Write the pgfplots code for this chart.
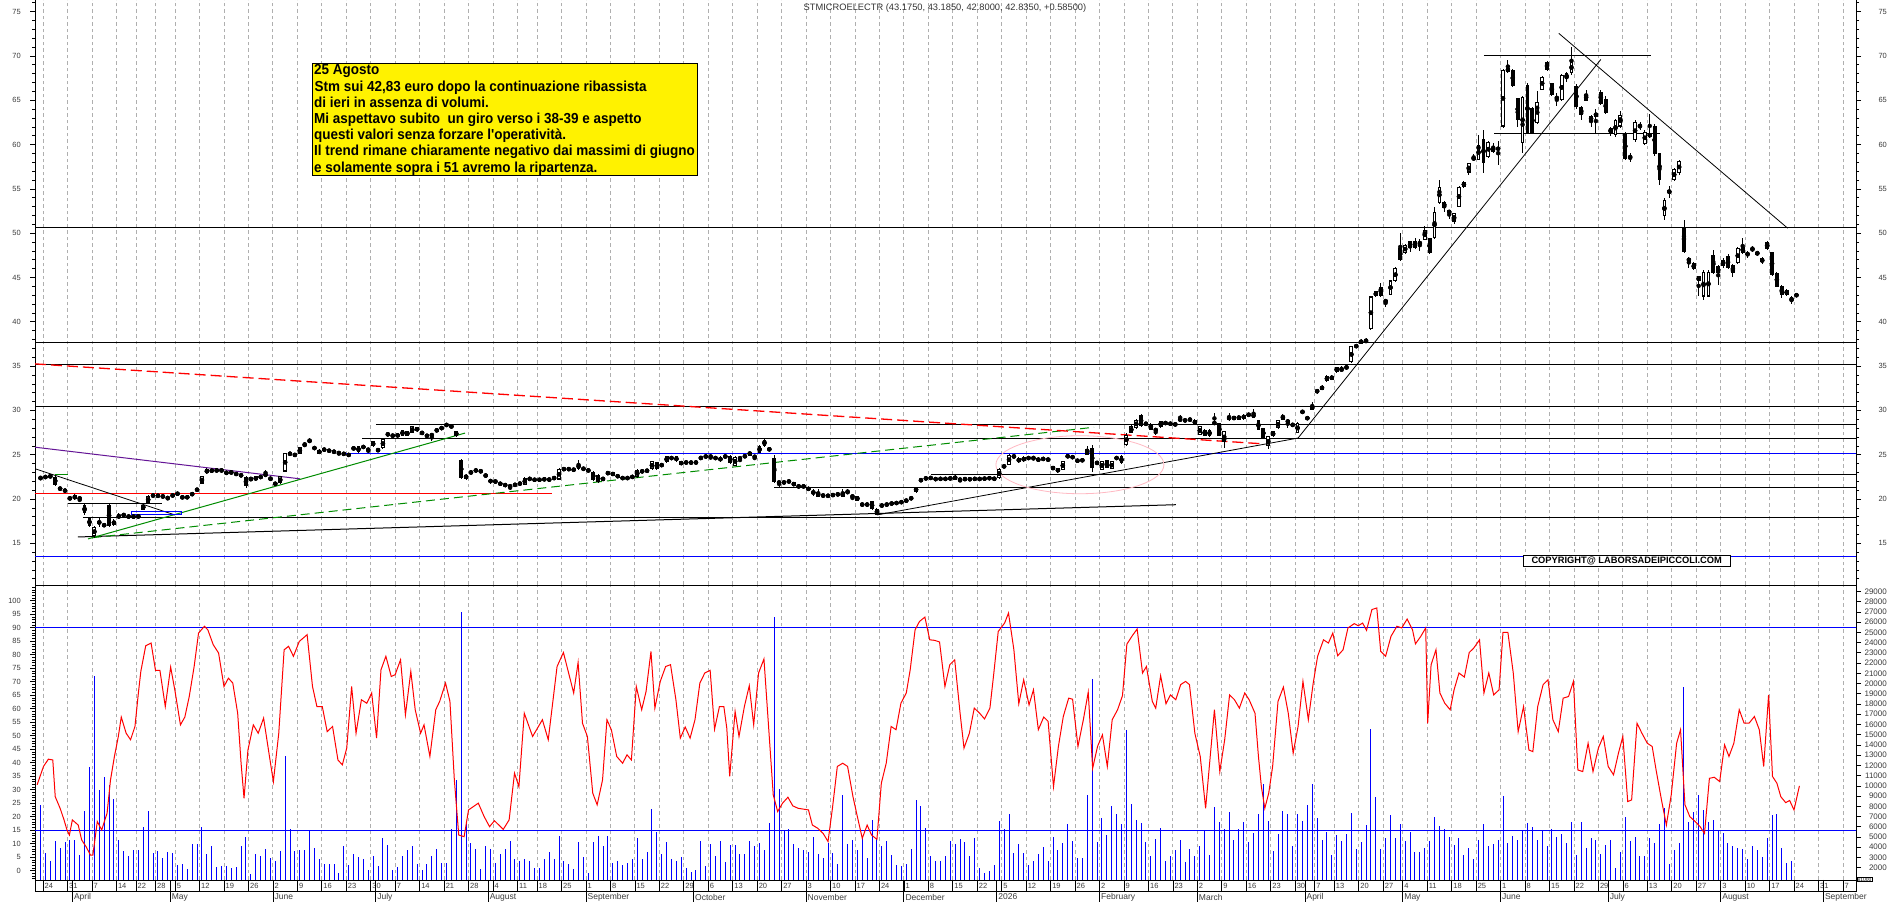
\documentclass[border=0pt]{standalone}
\usepackage{fontspec}
\setmainfont{Liberation Sans}
\newfontfamily\boxfont[FakeStretch=0.93]{Liberation Sans}
\usepackage{pgfplots}
\usepackage{pgfplotstable}
\pgfplotsset{compat=1.18}
\definecolor{grn}{RGB}{0,140,0}
\definecolor{purp}{RGB}{100,20,150}
\definecolor{pnk}{RGB}{255,185,195}
\definecolor{gridc}{RGB}{175,175,175}
\definecolor{lbl}{RGB}{60,60,60}

\pgfplotstableread{
i o h l c
-1 22.3 22.6 22.2 22.4
0 22.45 22.7 22.3 22.5
1 22.45 22.8 22.4 22.65
2 22.5 22.6 21.5 21.6
3 21.2 21.35 21.0 21.15
4 21.05 21.1 20.8 20.85
5 20.1 20.3 19.85 20.05
6 20.45 20.6 19.9 19.95
7 20.1 20.1 19.7 20.05
8 19.35 19.4 18.2 18.4
9 17.85 17.9 16.9 16.95
10 15.8 17.0 15.6 16.85
11 17.3 17.85 16.9 17.4
12 17.1 17.3 16.8 17.0
13 19.35 19.4 16.9 16.95
14 17.1 17.7 17.0 17.55
15 18.15 18.4 17.8 17.9
16 18.1 18.4 18.0 18.3
17 18.0 18.1 17.95 18.05
18 18.15 18.2 17.8 17.9
19 18.1 18.2 17.9 17.95
20 18.8 19.4 18.75 19.35
21 19.55 20.4 19.5 20.3
22 20.5 20.55 20.2 20.3
23 20.35 20.5 20.2 20.4
24 20.3 20.45 20.1 20.3
25 20.2 20.25 19.9 20.05
26 20.3 20.6 20.2 20.5
27 20.6 20.8 20.4 20.6
28 20.3 20.35 20.0 20.1
29 20.25 20.3 20.1 20.15
30 20.4 20.75 20.35 20.7
31 20.85 21.3 20.8 21.25
32 21.75 22.6 21.7 22.55
33 22.9 23.45 22.85 23.35
34 23.3 23.4 23.0 23.1
35 23.2 23.35 23.1 23.25
36 23.25 23.35 23.1 23.2
37 23.0 23.1 22.85 22.9
38 23.0 23.1 22.9 23.0
39 22.7 23.0 22.65 22.95
40 22.75 22.8 22.55 22.6
41 22.5 22.55 21.3 21.45
42 22.25 22.35 22.1 22.3
43 22.1 22.6 22.05 22.55
44 22.6 22.7 22.3 22.35
45 22.7 23.3 22.6 22.75
46 22.4 22.45 22.1 22.2
47 21.75 21.9 21.55 21.7
48 21.8 22.6 21.7 22.55
49 23.1 25.25 23.05 25.2
50 24.95 25.35 24.9 25.25
51 24.85 25.15 24.8 25.1
52 25.1 25.9 25.05 25.85
53 25.95 26.45 25.9 26.25
54 26.4 26.85 26.35 26.7
55 25.85 25.9 25.6 25.65
56 25.1 25.6 25.05 25.55
57 25.55 25.7 25.45 25.6
58 25.45 25.55 25.35 25.45
59 25.35 25.45 25.25 25.3
60 25.2 25.25 25.0 25.2
61 25.2 25.25 24.95 25.0
62 24.9 25.1 24.85 25.05
63 25.7 25.8 25.6 25.75
64 25.95 26.0 25.2 25.3
65 25.85 26.0 25.75 25.9
66 25.55 25.7 25.2 25.6
67 26.5 26.55 25.9 25.95
68 25.65 25.7 25.3 25.4
69 25.75 26.8 25.7 26.75
70 27.15 27.5 27.1 27.45
71 27.15 27.3 27.0 27.15
72 27.0 27.45 26.95 27.35
73 27.15 27.8 27.1 27.75
74 27.65 27.7 27.1 27.15
75 27.45 28.25 27.4 28.2
76 28.1 28.15 27.6 27.65
77 27.45 27.6 27.35 27.45
78 27.15 27.25 27.05 27.1
79 27.2 27.3 26.6 27.25
80 27.6 27.95 27.55 27.9
81 27.9 28.15 27.85 28.1
82 28.2 28.6 28.15 28.5
83 28.0 28.45 27.9 28.4
84 27.65 27.7 27.0 27.1
85 24.35 24.5 22.3 22.4
86 22.75 22.8 22.2 22.3
87 23.0 23.1 22.9 23.0
88 23.2 23.35 23.1 23.25
89 23.15 23.3 23.0 23.1
90 22.75 22.8 22.5 22.55
91 22.25 22.3 21.75 21.8
92 22.0 22.1 21.85 21.95
93 21.75 21.85 21.6 21.7
94 21.6 21.7 21.45 21.55
95 21.5 21.55 21.0 21.4
96 21.45 21.8 21.4 21.75
97 21.8 21.85 21.6 21.7
98 21.62 22.45 21.55 22.37
99 22.25 22.4 22.15 22.3
100 22.2 22.3 22.05 22.15
101 22.25 22.3 22.05 22.1
102 22.2 22.35 22.1 22.25
103 22.2 22.3 22.05 22.2
104 22.45 22.5 22.2 22.3
105 22.2 23.45 22.15 23.38
106 23.35 23.5 23.25 23.4
107 23.4 23.5 23.25 23.35
108 23.3 23.45 23.2 23.3
109 23.38 24.4 23.3 23.98
110 23.55 23.6 23.2 23.3
111 23.25 23.3 23.15 23.2
112 23.08 23.15 22.05 22.11
113 22.74 22.8 21.8 21.88
114 22.25 22.4 22.1 22.3
115 22.95 23.05 22.8 22.9
116 23.0 23.05 22.6 22.65
117 22.75 22.8 22.35 22.4
118 22.35 22.5 22.2 22.4
119 22.45 22.5 22.2 22.3
120 22.37 22.7 22.3 22.63
121 22.48 23.4 22.4 23.31
122 23.1 23.25 23.0 23.15
123 23.2 23.3 23.05 23.2
124 23.38 24.3 23.3 24.25
125 24.14 24.2 23.3 23.38
126 23.68 24.05 23.6 23.98
127 24.14 24.9 24.1 24.81
128 24.6 24.75 24.5 24.65
129 24.81 24.85 24.2 24.25
130 24.25 24.3 23.8 23.87
131 24.15 24.25 24.0 24.1
132 23.98 24.3 23.9 24.25
133 24.15 24.2 24.05 24.1
134 24.6 24.8 24.5 24.65
135 24.8 24.95 24.65 24.8
136 24.8 24.85 24.5 24.8
137 24.6 24.75 24.5 24.65
138 24.25 24.8 24.2 24.74
139 24.8 24.9 24.7 24.8
140 24.89 24.95 24.0 24.06
141 23.76 24.8 23.7 24.74
142 24.62 24.65 24.15 24.6
143 24.8 24.95 24.7 24.85
144 24.89 25.45 24.85 25.34
145 24.75 24.85 24.4 24.8
146 25.19 26.05 25.15 26.01
147 25.94 26.9 25.9 26.69
148 25.75 25.8 25.4 25.49
149 24.62 25.0 21.8 21.88
150 21.9 22.0 21.4 21.85
151 21.85 22.0 21.75 21.9
152 21.95 22.15 21.85 22.0
153 21.88 21.9 21.45 21.5
154 21.45 21.5 21.35 21.4
155 21.45 21.5 21.35 21.4
156 21.3 21.4 20.9 21.0
157 20.7 21.13 20.3 20.8
158 20.23 21.1 20.2 20.75
159 20.4 20.6 20.25 20.35
160 20.49 20.55 20.2 20.23
161 20.45 20.55 20.35 20.45
162 20.38 20.75 20.3 20.68
163 20.23 21.1 20.2 20.75
164 20.75 21.1 20.6 20.8
165 20.3 20.35 19.9 20.3
166 20.3 20.35 19.75 19.81
167 19.4 19.5 19.25 19.35
168 19.35 19.5 19.25 19.4
169 19.74 19.8 18.8 18.87
170 18.23 18.95 18.15 18.87
171 19.25 19.4 19.1 19.3
172 19.35 19.5 19.25 19.4
173 19.36 19.7 19.3 19.62
174 19.55 19.65 19.45 19.55
175 19.55 19.8 19.5 19.74
176 19.7 20.0 19.65 19.93
177 19.93 20.3 19.9 20.23
178 20.75 21.4 20.7 21.35
179 22.1 22.25 22.0 22.15
180 22.18 22.55 22.1 22.48
181 22.35 22.5 22.25 22.4
182 22.25 22.35 22.15 22.25
183 22.3 22.35 22.2 22.25
184 22.25 22.4 22.15 22.3
185 22.18 22.55 22.1 22.48
186 22.18 22.7 22.1 22.63
187 22.2 22.25 21.95 22.2
188 22.25 22.35 22.15 22.25
189 22.37 22.4 22.05 22.11
190 22.25 22.4 22.15 22.3
191 22.25 22.35 22.15 22.3
192 22.3 22.4 22.2 22.3
193 22.35 22.45 22.25 22.35
194 22.48 22.5 22.05 22.11
195 22.37 23.45 22.3 23.38
196 23.65 23.9 23.5 23.7
197 23.87 25.05 23.8 25.0
198 24.88 24.95 24.65 24.74
199 24.63 24.7 24.05 24.14
200 24.25 24.8 24.2 24.74
201 24.6 24.75 24.5 24.65
202 24.44 24.9 24.4 24.74
203 24.63 24.7 24.2 24.25
204 24.5 24.65 24.4 24.55
205 24.45 24.5 24.4 24.44
206 23.68 23.75 23.25 23.31
207 23.0 23.55 22.95 23.5
208 23.31 24.3 23.25 24.25
209 24.8 24.95 24.7 24.85
210 24.75 24.85 24.6 24.7
211 24.5 24.55 24.1 24.14
212 24.25 24.55 24.2 24.5
213 25.64 25.95 24.95 25.0
214 25.75 26.1 23.1 23.5
215 24.05 24.2 23.95 24.1
216 23.31 24.3 23.25 24.25
217 24.37 24.4 23.45 23.5
218 23.4 24.3 23.35 24.25
219 24.6 24.75 24.5 24.65
220 24.06 25.0 23.9 24.81
221 26.13 27.45 25.95 27.26
222 27.45 28.3 27.4 28.2
223 28.0 29.0 27.95 28.95
224 29.5 29.6 28.1 28.2
225 28.5 28.6 28.35 28.5
226 28.5 28.55 27.75 27.82
227 27.8 27.85 27.25 27.8
228 28.12 28.85 28.05 28.76
229 28.55 28.7 28.45 28.6
230 28.5 28.6 28.4 28.5
231 28.27 28.65 28.2 28.57
232 28.95 29.5 28.85 28.95
233 28.85 29.0 28.75 28.9
234 28.95 29.1 28.85 28.95
235 28.95 29.0 28.3 28.38
236 27.26 28.25 27.2 28.2
237 27.82 27.85 27.1 27.15
238 27.07 27.85 27.0 27.82
239 28.55 29.7 28.5 28.6
240 28.57 28.6 27.1 27.15
241 26.39 27.7 25.75 27.63
242 28.87 29.7 28.8 29.4
243 28.95 29.4 28.9 29.32
244 28.95 29.5 28.9 29.4
245 29.02 29.6 28.95 29.5
246 29.5 29.65 29.4 29.5
247 29.7 30.15 29.1 29.14
248 28.87 28.9 27.75 27.82
249 28.0 28.05 26.8 26.88
250 25.94 27.1 25.65 27.07
251 27.07 27.7 27.0 27.63
252 28.0 28.9 27.95 28.87
253 28.95 29.65 28.9 29.4
254 28.95 29.0 28.0 28.57
255 28.4 28.5 28.2 28.35
256 27.45 28.65 27.4 28.57
257 29.7 30.05 29.65 29.95
258 29.15 29.3 28.95 29.1
259 30.08 31.0 30.0 30.53
260 32.03 32.4 31.9 32.33
261 32.3 32.85 32.25 32.78
262 33.27 33.95 33.2 33.9
263 33.46 34.0 33.4 33.9
264 34.29 34.95 34.25 34.9
265 34.6 35.0 34.4 34.6
266 34.66 35.1 34.6 35.04
267 35.42 37.3 35.35 37.22
268 37.1 37.5 37.0 37.41
269 37.97 38.05 37.45 37.52
270 38.05 38.2 37.55 37.6
271 39.17 42.95 39.1 42.86
272 42.86 43.5 42.8 43.42
273 43.98 44.4 42.85 42.93
274 42.48 42.55 41.7 42.18
275 43.05 44.75 43.0 44.66
276 44.55 46.15 44.5 46.05
277 48.31 50.0 46.9 46.99
278 47.74 48.8 47.6 48.68
279 49.06 49.1 47.9 48.31
280 49.06 49.5 48.2 48.31
281 48.9 49.3 48.0 48.85
282 49.25 50.8 49.2 50.37
283 49.44 49.5 47.6 47.74
284 49.44 52.9 49.35 52.44
285 53.38 56.0 53.3 55.26
286 53.57 53.65 52.4 52.82
287 52.56 52.6 51.6 52.25
288 51.31 52.3 51.0 52.25
289 53.0 55.35 52.9 55.26
290 55.82 55.9 55.1 55.19
291 56.84 57.95 56.6 57.89
292 58.57 58.9 58.2 58.27
293 58.27 61.1 58.2 59.96
294 60.6 61.6 56.8 57.96
295 58.64 60.4 58.5 60.33
296 59.77 60.2 59.1 59.2
297 59.66 60.35 57.7 59.4
298 62.03 68.5 61.9 68.42
299 68.6 69.5 68.1 68.23
300 68.42 68.5 66.5 66.61
301 65.22 65.3 62.0 62.78
302 60.15 65.5 59.0 65.41
303 66.72 67.0 61.2 61.35
304 64.09 64.2 61.2 61.35
305 62.4 66.0 62.3 64.85
306 66.16 67.7 66.1 67.66
307 69.35 69.4 68.3 68.42
308 66.91 67.0 65.5 65.6
309 65.41 65.8 64.3 65.11
310 65.03 68.0 64.9 67.85
311 67.36 68.2 67.0 68.1
312 68.04 71.0 67.9 69.35
313 66.61 66.8 64.0 64.28
314 64.2 64.3 62.8 63.34
315 65.71 66.2 64.9 64.96
316 63.23 63.3 62.0 62.59
317 63.15 64.0 61.3 63.6
318 65.97 66.2 64.5 64.58
319 65.11 65.5 63.4 63.53
320 61.35 62.0 61.0 61.84
321 61.08 62.9 60.8 62.78
322 62.03 63.8 61.9 63.34
323 61.27 61.4 58.2 58.34
324 58.72 59.0 58.0 58.46
325 60.52 62.8 60.3 62.59
326 62.1 62.5 61.6 62.1
327 60.07 61.6 59.9 61.46
328 61.27 63.5 60.7 60.82
329 62.1 62.3 58.7 58.95
330 59.02 59.1 55.4 56.01
331 51.88 54.0 51.5 53.76
332 54.51 55.3 54.0 54.88
333 56.01 57.3 55.9 57.21
334 56.76 58.3 56.6 58.19
335 50.75 51.5 47.8 47.93
336 47.18 47.3 46.1 46.8
337 46.61 46.7 45.8 45.94
338 45.11 45.2 42.9 44.55
339 42.85 45.8 42.5 45.67
340 42.85 45.8 42.8 45.67
341 47.55 48.1 45.4 45.49
342 46.24 46.4 44.1 45.49
343 46.24 47.2 46.1 46.99
344 47.37 47.6 45.9 46.05
345 46.43 46.5 45.0 45.49
346 46.61 48.4 46.5 48.31
347 48.49 49.5 47.6 47.74
348 47.93 48.0 47.2 47.37
349 48.31 48.6 47.9 48.04
350 47.93 48.0 47.4 47.56
351 47.18 47.3 46.5 46.69
352 48.2 49.1 48.1 48.95
353 47.85 47.9 45.2 45.3
354 45.49 45.6 43.9 43.98
355 44.06 44.1 42.7 43.05
356 43.6 43.7 42.9 43.05
357 42.78 42.9 42.0 42.3
358 43.175 43.185 42.8 42.835
}\candles

\pgfplotstableread{
i v
-1 8100
0 3400
1 2700
2 4600
3 3900
4 4500
5 4700
6 4700
7 3200
8 7500
9 11800
10 20700
11 9600
12 10900
13 10100
14 8700
15 4700
16 3600
17 3100
18 3700
19 3700
20 6000
21 7500
22 3400
23 3600
24 2900
25 3500
26 3400
27 2300
28 2400
29 1900
30 4300
31 4300
32 6000
33 3300
34 4100
35 2100
36 2200
37 2200
38 2000
39 2100
40 4100
41 5000
42 1400
43 3300
44 3100
45 3800
46 2900
47 2700
48 3600
49 12900
50 5800
51 3600
52 3700
53 3700
54 5600
55 3900
56 2800
57 2400
58 2400
59 2400
60 1500
61 4100
62 2300
63 3300
64 3000
65 2800
66 1800
67 3100
68 2200
69 4900
70 4200
71 1800
72 2100
73 3100
74 3700
75 4100
76 2400
77 1800
78 2400
79 3100
80 3800
81 2500
82 2500
83 5800
84 10600
85 27000
86 6500
87 4400
88 3800
89 1900
90 4100
91 3800
92 2500
93 3300
94 3800
95 4600
96 2800
97 2700
98 2800
99 2700
100 2000
101 2000
102 2800
103 3500
104 2800
105 5100
106 2700
107 2400
108 1900
109 4500
110 3000
111 1500
112 4500
113 5100
114 4100
115 5100
116 2500
117 2700
118 2300
119 2500
120 2800
121 4900
122 2800
123 3500
124 7700
125 5500
126 3300
127 4500
128 2800
129 2700
130 3000
131 2000
132 1600
133 1800
134 4600
135 2200
136 4300
137 3100
138 4600
139 2600
140 4200
141 4200
142 3300
143 3300
144 4600
145 4100
146 4400
147 3700
148 6400
149 26500
150 9700
151 5700
152 5800
153 4300
154 3900
155 3700
156 3500
157 5000
158 3300
159 2900
160 4400
161 3400
162 2400
163 9100
164 4300
165 4700
166 3700
167 5000
168 2900
169 6700
170 4900
171 4100
172 4600
173 3200
174 2300
175 2200
176 2400
177 3800
178 8600
179 8000
180 5900
181 3100
182 2700
183 2700
184 3100
185 4600
186 4300
187 4800
188 4500
189 3100
190 4900
191 2000
192 1500
193 1700
194 2300
195 6600
196 5800
197 7200
198 3400
199 4300
200 3400
201 2300
202 2700
203 3300
204 4000
205 2700
206 5000
207 3700
208 4400
209 6300
210 4600
211 2900
212 2900
213 9100
214 20400
215 4500
216 6900
217 5200
218 8000
219 7200
220 6300
221 15500
222 8200
223 6700
224 6400
225 4500
226 3100
227 4800
228 5900
229 2700
230 3100
231 3700
232 4700
233 2600
234 3800
235 3100
236 4100
237 5700
238 3200
239 7900
240 6500
241 5800
242 7400
243 4700
244 5800
245 6500
246 4500
247 5400
248 7200
249 10200
250 6600
251 3600
252 5300
253 7500
254 7200
255 4100
256 7200
257 6600
258 8100
259 10200
260 6900
261 4700
262 5500
263 3200
264 5200
265 4600
266 5300
267 7300
268 3800
269 4500
270 6200
271 15600
272 8900
273 3800
274 4900
275 7100
276 4900
277 6300
278 4600
279 5500
280 3500
281 3500
282 3900
283 4600
284 7000
285 6100
286 5800
287 5000
288 4200
289 4900
290 3200
291 3900
292 2800
293 4700
294 6300
295 4100
296 4300
297 4700
298 9000
299 4400
300 5100
301 4700
302 5600
303 6400
304 6000
305 4700
306 5600
307 4100
308 5800
309 5000
310 5300
311 4400
312 6500
313 3200
314 6500
315 3900
316 4900
317 4700
318 3300
319 4200
320 4700
321 2000
322 3500
323 7000
324 4600
325 5000
326 3100
327 3100
328 4900
329 4400
330 6300
331 7800
332 2400
333 3700
334 4400
335 19700
336 6500
337 7400
338 9100
339 7600
340 6500
341 6700
342 5700
343 5400
344 4400
345 4100
346 3900
347 3800
348 2800
349 4100
350 3700
351 3000
352 4900
353 7100
354 7200
355 3900
356 2500
357 2700
}\vol

\pgfplotstableread{
x y
-1.7 31.8
-0.4 38.6
0.6 41.3
1.5 41.0
2.0 27.4
3.0 23.1
3.8 18.8
4.4 15.1
4.9 13.2
5.5 18.8
6.7 16.9
7.4 11.4
8.3 8.9
9.2 5.8
9.7 5.8
10.6 18.2
11.5 15.1
12.6 21.3
13.3 33.6
14.1 42.3
14.9 49.7
15.5 56.9
16.5 50.9
17.4 48.5
18.3 53.4
19.0 65.8
19.5 73.8
20.5 83.3
21.6 84.3
22.5 74.2
23.4 74.2
24.5 60.8
25.6 75.4
26.5 66.4
27.6 54.0
28.5 56.9
29.4 64.5
30.4 75.6
31.3 88.0
32.5 90.5
33.2 89.2
34.3 83.7
35.4 80.6
36.5 68.2
37.4 71.3
38.3 69.5
39.3 58.3
40.0 39.8
40.6 26.8
41.4 44.7
42.5 54.0
43.5 50.9
44.6 56.5
45.8 42.3
46.6 33.0
47.7 50.9
48.8 81.8
49.7 83.1
50.7 79.4
51.9 84.9
53.5 87.4
54.6 68.2
55.5 60.8
56.6 60.8
57.6 51.5
58.7 53.4
59.8 41.0
60.7 39.2
61.6 45.4
62.6 68.2
63.5 50.9
64.6 63.3
65.7 62.0
66.7 65.8
67.7 49.1
68.6 74.4
69.6 79.4
70.7 71.9
71.5 72.6
72.6 78.1
73.6 57.7
74.7 73.8
75.6 59.6
76.7 50.9
77.4 54.0
78.6 42.3
79.8 59.6
80.6 62.7
81.8 69.5
82.7 62.7
83.6 33.6
84.5 13.2
85.6 12.6
86.5 22.5
88.5 25.0
89.7 20.0
90.8 16.3
91.8 18.5
93.6 15.3
94.8 18.8
95.9 36.1
96.8 31.1
97.9 58.3
99.6 49.7
101.6 55.9
102.8 48.5
104.6 75.6
105.9 80.8
108.0 65.8
108.9 77.1
109.8 54.6
110.8 49.7
111.9 28.7
112.8 24.4
113.9 33.6
114.8 55.9
115.7 52.2
116.8 42.3
118.0 39.8
118.9 42.9
119.8 41.0
120.8 68.2
121.9 59.6
122.8 66.4
123.8 81.2
124.6 60.2
125.7 70.1
126.8 75.6
127.8 76.3
128.9 63.3
129.8 49.1
130.8 53.2
131.8 49.1
132.8 55.9
133.8 69.5
134.8 73.2
135.9 74.2
136.8 52.4
137.8 60.8
138.7 60.8
139.3 52.8
139.9 34.9
141.0 59.0
141.8 49.7
142.9 60.8
143.9 68.5
144.8 54.0
145.8 73.2
146.9 78.4
148.8 28.1
149.7 21.9
150.7 25.0
151.8 27.2
152.8 24.0
153.9 23.1
156.0 22.5
156.8 16.9
157.9 15.7
159.0 13.8
160.0 10.8
160.9 23.1
161.9 38.6
163.0 39.8
164.0 38.6
165.1 27.4
166.0 20.0
167.0 12.0
168.0 16.9
168.9 13.2
170.0 11.6
170.9 32.4
171.9 39.8
172.9 53.4
173.9 52.2
174.9 62.0
176.0 65.8
176.8 74.4
177.8 89.2
178.7 92.3
179.8 93.9
180.8 85.5
181.8 85.3
182.8 84.7
183.9 68.2
184.9 76.3
185.9 78.1
187.0 58.3
187.8 45.4
188.9 50.9
189.9 60.2
191.0 58.3
192.0 56.2
193.1 60.2
193.9 73.2
194.8 88.6
196.1 91.7
196.9 95.4
198.0 81.8
199.0 61.8
200.0 70.7
201.1 61.4
202.0 67.0
203.0 52.2
204.1 56.9
205.0 55.3
206.1 31.1
207.1 46.0
208.1 57.1
209.2 63.9
210.0 63.5
211.1 46.0
212.2 55.9
213.2 66.1
214.1 37.9
215.1 46.0
216.1 50.3
217.1 38.6
218.1 55.9
219.2 59.6
220.2 64.8
221.1 83.9
222.2 87.0
223.2 89.5
224.3 73.2
225.1 75.6
226.3 62.7
227.0 60.2
228.0 72.2
229.1 61.8
230.0 65.1
231.1 63.3
232.1 68.9
233.1 70.1
233.9 68.9
235.0 50.9
236.1 42.3
237.2 23.1
238.2 43.5
239.0 59.6
240.1 36.7
241.1 48.5
242.1 65.1
243.1 63.3
244.1 60.2
245.2 65.8
246.1 63.3
247.3 58.3
248.0 42.3
248.6 31.1
249.3 23.1
250.1 28.7
250.9 38.6
252.0 62.7
253.1 68.0
254.1 58.3
255.1 43.5
256.1 53.4
257.1 70.1
258.2 55.9
259.2 69.5
260.1 79.4
261.3 85.5
262.3 84.3
263.2 88.0
264.2 79.6
265.3 81.8
266.3 89.9
267.6 91.5
268.4 90.7
269.3 91.7
270.1 89.0
271.2 96.7
272.2 97.3
273.0 81.2
274.0 79.4
275.1 86.8
276.3 90.5
277.3 89.9
278.4 93.2
279.5 89.2
280.1 84.0
281.2 86.8
282.2 89.9
282.6 54.6
283.3 76.3
284.3 81.8
285.1 65.8
286.1 62.0
287.2 59.6
288.0 67.0
289.0 73.2
290.1 71.7
291.1 80.8
292.0 82.4
293.2 85.5
294.1 65.8
295.1 73.2
296.1 65.1
297.2 67.0
298.0 88.3
299.0 88.3
300.1 73.2
301.1 51.5
302.2 60.8
303.3 44.7
304.1 44.1
305.1 60.8
306.2 68.9
307.2 70.7
308.2 55.9
309.3 51.5
310.3 63.9
311.4 64.5
312.4 70.1
313.3 37.3
314.3 36.7
315.4 47.2
316.4 36.7
317.5 45.4
318.5 49.7
319.5 38.6
320.6 35.5
321.6 43.5
322.5 49.7
323.5 25.6
324.3 26.2
325.4 54.6
326.4 50.9
327.5 47.2
328.5 46.0
329.3 37.3
330.4 26.2
331.4 16.9
332.4 28.1
333.5 47.2
334.3 52.2
335.2 24.4
336.2 20.0
337.3 18.2
338.3 16.3
339.2 13.8
340.2 34.2
341.2 34.6
342.3 33.0
343.3 46.6
344.2 42.3
345.2 47.2
346.3 59.6
347.3 54.6
348.3 54.6
349.4 57.1
350.4 52.2
351.3 38.6
352.3 65.1
353.1 34.9
354.0 32.4
354.8 27.4
355.8 25.2
356.6 26.0
357.5 22.5
358.6 31.4
}\osc

\pgfplotsset{
  base/.style={scale only axis, width=1821pt, xmin=-2.137, xmax=370.18,
    anchor=south west, tick align=outside, major tick length=5pt, minor tick length=3pt,
    axis line style={-, line width=0.8pt, black}, tick style={black, line width=0.6pt},
    /pgf/number format/assume math mode=true, clip=true},
  weekgrid/.style={xtick={-0.5,4.5,9.5,14.5,18.5,22.5,26.5,31.5,36.5,41.5,46.5,51.5,56.5,61.5,66.5,71.5,76.5,81.5,86.5,91.5,96.5,100.5,105.5,110.5,115.5,120.5,125.5,130.5,135.5,140.5,145.5,150.5,155.5,160.5,165.5,170.5,175.5,180.5,185.5,190.5,195.5,200.5,205.5,210.5,215.5,220.5,225.5,230.5,235.5,240.5,245.5,250.5,255.5,259.5,263.5,268.5,273.5,277.5,282.5,287.5,292.5,297.5,302.5,307.5,312.5,317.5,322.5,327.5,332.5,337.5,342.5,347.5,352.5,357.5,362.5,367.5},
    xmajorgrids, xmajorticks=false, xticklabel=\empty,
    major grid style={gridc, dash pattern=on 3.5pt off 3pt, line width=0.8pt}},
  lticks/.style={yticklabel style={font=\fontsize{7.5}{8}\selectfont, text=lbl, anchor=east, inner sep=0pt, xshift=-9pt}},
  rticks/.style={yticklabel style={font=\fontsize{7.5}{8}\selectfont, text=lbl, anchor=east, inner sep=0pt, xshift=26pt}},
}

\begin{document}
\begin{tikzpicture}[x=1pt,y=1pt]
\useasboundingbox (0,0) rectangle (1890,902);
\fill[white] (0,0) rectangle (1890,902);

% ---------- bottom panel: volume (drawn first) ----------
\begin{axis}[base, weekgrid, at={(35pt,22pt)}, height=295pt,
  ymin=796, ymax=29626, ytick={2000,3000,...,29000}, ytick pos=right, yticklabel pos=right,
  scaled y ticks=false, /pgf/number format/1000 sep={}, /pgf/number format/fixed, rticks,
  yticklabel style={font=\fontsize{8}{8}\selectfont}]
\addplot[ycomb, blue, line width=1pt, mark=none] table[x=i, y=v] {\vol};
\end{axis}

% ---------- bottom panel: oscillator ----------
\begin{axis}[base, at={(35pt,22pt)}, height=295pt,
  ymin=-3.45, ymax=105.8, axis x line=none, axis y line*=left,
  ytick={0,5,...,100}, minor ytick={-3,-2,...,105}, lticks]
\addplot[blue, line width=1pt] coordinates {(-3,90) (372,90)};
\addplot[blue, line width=1pt] coordinates {(-3,15) (372,15)};
\addplot[red, line width=1pt, mark=none] table[x=x, y=y] {\osc};
\end{axis}

% ---------- top panel: price ----------
\begin{axis}[base, weekgrid, at={(35pt,317pt)}, height=585pt,
  ymin=10.3, ymax=76.31, axis x line*=bottom, axis y line*=left,
  ytick={15,20,...,75}, minor ytick={11,12,...,76}, lticks]
% horizontal levels
\addplot[black, line width=1pt] coordinates {(-3,50.6) (372,50.6)};
\addplot[black, line width=1pt] coordinates {(-3,37.65) (372,37.65)};
\addplot[black, line width=1pt] coordinates {(-3,35.15) (372,35.15)};
\addplot[black, line width=1pt] coordinates {(-3,30.4) (372,30.4)};
\addplot[black, line width=1pt] coordinates {(67.58,28.46) (372,28.46)};
\addplot[black, line width=1pt] coordinates {(64.72,26.88) (372,26.88)};
\addplot[black, line width=1pt] coordinates {(181.06,22.74) (372,22.74)};
\addplot[black, line width=1pt] coordinates {(148.96,21.28) (372,21.28)};
\addplot[black, line width=1pt] coordinates {(7.67,17.86) (372,17.86)};
\addplot[black, line width=1pt] coordinates {(4.61,19.45) (23.83,19.45)};
\addplot[black, line width=1pt] coordinates {(294.1,70.0) (328.3,70.0)};
\addplot[black, line width=1pt] coordinates {(296.2,61.25) (330.1,61.25)};
\addplot[blue, line width=1pt] coordinates {(61.04,25.1) (372,25.1)};
\addplot[blue, line width=1pt] coordinates {(-3,13.5) (372,13.5)};
\addplot[red, line width=1pt] coordinates {(-3,20.68) (65.13,20.68)};
\addplot[red, line width=1pt] coordinates {(65.13,20.57) (103.56,20.57)};
% trend lines
\addplot[purp, line width=1pt] coordinates {(-2.14,25.85) (52.04,22.28)};
\addplot[black, line width=0.8pt] coordinates {(-2.14,23.42) (26.49,18.2)};
\addplot[black, line width=1pt] coordinates {(6.65,15.72) (231.14,19.36)};
\addplot[grn, line width=1pt] coordinates {(8.70,15.5) (85.78,27.44)};
\addplot[grn, line width=1pt, dash pattern=on 9pt off 5pt] coordinates {(9.52,15.63) (214.38,28.1)};
\addplot[grn, line width=1pt] coordinates {(1.95,22.75) (4.61,22.75)};
\addplot[red, line width=1.3pt, dash pattern=on 11pt off 5pt] coordinates {(-2.14,35.25) (248.32,26.25)};
\addplot[black, line width=0.8pt] coordinates {(170.0,18.2) (256.1,26.88)};
\addplot[black, line width=0.8pt] coordinates {(256.1,26.88) (318.0,69.6)};
\addplot[black, line width=0.8pt] coordinates {(309.4,72.55) (356.2,50.56)};
\addplot[blue, line width=0.9pt] coordinates {(17.49,18.27) (27.71,18.27) (27.71,18.65) (17.49,18.65) (17.49,18.27)};
\draw[pnk, line width=0.8pt] (axis cs:211.5,23.87) ellipse [x radius=84pt, y radius=29pt];
% candles: wicks, bodies, hollow interiors of rising candles
\addplot[only marks, mark=none, error bars/.cd, y dir=both, y explicit, error mark=none,
  error bar style={black, line width=0.9pt}]
  table[x=i, y expr={(\thisrow{h}+\thisrow{l})/2}, y error expr={(\thisrow{h}-\thisrow{l})/2}] {\candles};
\addplot[only marks, mark=none, error bars/.cd, y dir=both, y explicit, error mark=none,
  error bar style={black, line width=3.8pt}]
  table[x=i, y expr={(\thisrow{o}+\thisrow{c})/2}, y error expr={max(abs(\thisrow{c}-\thisrow{o})/2,0.055)}] {\candles};
\addplot[only marks, mark=none, error bars/.cd, y dir=both, y explicit, error mark=none,
  error bar style={white, line width=1.8pt}]
  table[x=i, y expr={(\thisrow{o}+\thisrow{c})/2}, y error expr={(\thisrow{c}>\thisrow{o}) ? max((\thisrow{c}-\thisrow{o})/2-0.12,0) : 0}] {\candles};
\end{axis}

% top panel right-hand scale
\begin{axis}[base, at={(35pt,317pt)}, height=585pt,
  ymin=10.3, ymax=76.31, axis x line=none, axis y line*=right,
  ytick={15,20,...,75}, minor ytick={11,12,...,76}, rticks]
\addplot[draw=none, forget plot] coordinates {(0,20)};
\end{axis}

% ---------- date row ----------
\draw[black, line width=0.8pt] (35,10.3) -- (1856,10.3);
\draw[black, line width=0.8pt] (35,22) -- (35,10.3);
\draw[black, line width=0.8pt] (1856,22) -- (1856,10.3);
\foreach \p/\l in {-0.5/24,4.5/31,9.5/7,14.5/14,18.5/22,22.5/28,26.5/5,31.5/12,36.5/19,41.5/26,46.5/2,51.5/9,56.5/16,61.5/23,66.5/30,71.5/7,76.5/14,81.5/21,86.5/28,91.5/4,96.5/11,100.5/18,105.5/25,110.5/1,115.5/8,120.5/15,125.5/22,130.5/29,135.5/6,140.5/13,145.5/20,150.5/27,155.5/3,160.5/10,165.5/17,170.5/24,175.5/1,180.5/8,185.5/15,190.5/22,195.5/5,200.5/12,205.5/19,210.5/26,215.5/2,220.5/9,225.5/16,230.5/23,235.5/2,240.5/9,245.5/16,250.5/23,255.5/30,259.5/7,263.5/13,268.5/20,273.5/27,277.5/4,282.5/11,287.5/18,292.5/25,297.5/1,302.5/8,307.5/15,312.5/22,317.5/29,322.5/6,327.5/13,332.5/20,337.5/27,342.5/3,347.5/10,352.5/17,357.5/24,362.5/31,367.5/7}{
  \draw[black, line width=0.6pt] ({45.45+4.891*(\p)},22) -- ({45.45+4.891*(\p)},10.3);
  \node[anchor=west, inner sep=0pt, font=\fontsize{7.5}{8}\selectfont, text=lbl] at ({45.45+4.891*(\p)+1.5},16) {\l};
}
\foreach \p/\l in {5.5/April,25.5/May,46.5/June,67.5/July,90.5/August,110.5/September,132.5/October,155.5/November,175.5/December,194.5/2026,215.5/February,235.5/March,257.5/April,277.5/May,297.5/June,319.5/July,342.5/August,363.5/September}{
  \draw[black, line width=0.7pt] ({45.45+4.891*(\p)},22) -- ({45.45+4.891*(\p)},0);
  \node[anchor=west, inner sep=0pt, font=\fontsize{8.5}{9}\selectfont, text=lbl] at ({45.45+4.891*(\p)+1.5},5) {\l};
}
\node[draw=black, line width=0.5pt, fill=white, inner sep=0.6pt, font=\fontsize{5}{5}\selectfont, anchor=south west] at (1857,20) {x1000};

% ---------- title ----------
\node[font=\fontsize{9.3}{10}\selectfont, text=black!80] at (945,894) {STMICROELECTR (43.1750, 43.1850, 42.8000, 42.8350, +0.58500)};

% ---------- comment box ----------
\filldraw[fill=yellow, draw=black, line width=0.8pt] (312,727) rectangle (697,839);
\begin{scope}[every node/.style={anchor=base west, inner sep=0pt, font=\boxfont\bfseries\fontsize{14.5}{16}\selectfont}]
\node at (314,827) {25 Agosto};
\node at (314.5,810.3) {Stm sui 42,83 euro dopo la continuazione ribassista};
\node at (314,794.7) {di ieri in assenza di volumi.};
\node at (314,778.7) {Mi aspettavo subito\ \ un giro verso i 38-39 e aspetto};
\node at (314,762.7) {questi valori senza forzare l'operatività.};
\node at (314,746.3) {Il trend rimane chiaramente negativo dai massimi di giugno};
\node at (314,729.7) {e solamente sopra i 51 avremo la ripartenza.};
\end{scope}

% ---------- copyright ----------
\node[draw=black, fill=white, line width=0.8pt, inner xsep=1.5pt, inner ysep=0.6pt, minimum width=207pt, minimum height=11pt, font=\bfseries\fontsize{9.3}{10}\selectfont] at (1626.7,341.5) {COPYRIGHT@ LABORSADEIPICCOLI.COM};
\end{tikzpicture}
\end{document}
